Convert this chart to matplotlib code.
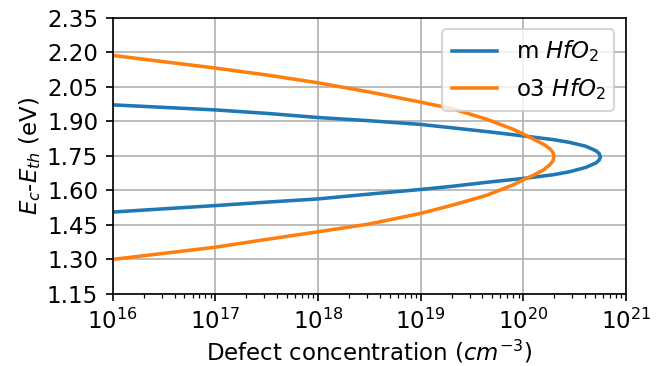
import numpy as np
import matplotlib.pyplot as plt

plt.rcParams['font.size'] = 11

# values (log10 of concentration, energy in eV)
# each curve goes along the upper branch to the tip and back along the lower branch
m_logN = [16, 17, 17.5, 18, 18.5, 19, 19.31, 19.64, 20, 20.29, 20.45, 20.61, 20.71, 20.74, 20.752,
          20.74, 20.71, 20.61, 20.45, 20.29, 20, 19.64, 19.31, 19, 18.5, 18, 17.5, 17, 16]
m_E = [1.972, 1.950, 1.935, 1.917, 1.903, 1.887, 1.872, 1.856, 1.837, 1.821, 1.809, 1.792, 1.772, 1.760, 1.746,
       1.732, 1.720, 1.700, 1.681, 1.668, 1.652, 1.635, 1.618, 1.604, 1.584, 1.563, 1.549, 1.534, 1.506]

o3_logN = [16, 17, 17.5, 18, 18.5, 19, 19.31, 19.64, 19.9, 20, 20.1, 20.2, 20.26, 20.29, 20.30,
           20.29, 20.26, 20.2, 20.1, 20, 19.9, 19.64, 19.31, 19, 18.5, 18, 17.5, 17, 16]
o3_E = [2.187, 2.132, 2.102, 2.068, 2.028, 1.984, 1.955, 1.910, 1.866, 1.845, 1.823, 1.800, 1.781, 1.765, 1.747,
        1.729, 1.712, 1.690, 1.666, 1.646, 1.624, 1.578, 1.536, 1.500, 1.454, 1.420, 1.387, 1.353, 1.300]

yticks = [1.15, 1.30, 1.45, 1.60, 1.75, 1.90, 2.05, 2.20, 2.35]

fig, ax = plt.subplots(figsize=(4.42, 2.44), dpi=150)
fig.subplots_adjust(left=0.170, right=0.944, top=0.951, bottom=0.197)

ax.plot(10.0 ** np.array(m_logN), m_E, lw=1.7, label='m $HfO_2$')
ax.plot(10.0 ** np.array(o3_logN), o3_E, lw=1.7, label='o3 $HfO_2$')
ax.set_xscale('log')
ax.set_xlim(1e16, 1e21)
ax.set_ylim(1.15, 2.35)
ax.set_yticks(yticks)
ax.set_yticklabels(['%.2f' % v for v in yticks])
ax.grid(True)
ax.set_xlabel('Defect concentration ($cm^{-3}$)', labelpad=2)
ax.set_ylabel('$E_c$-$E_{th}$ (eV)', labelpad=2)
ax.legend(loc='upper right')

fig.savefig('out.png', dpi=150)
